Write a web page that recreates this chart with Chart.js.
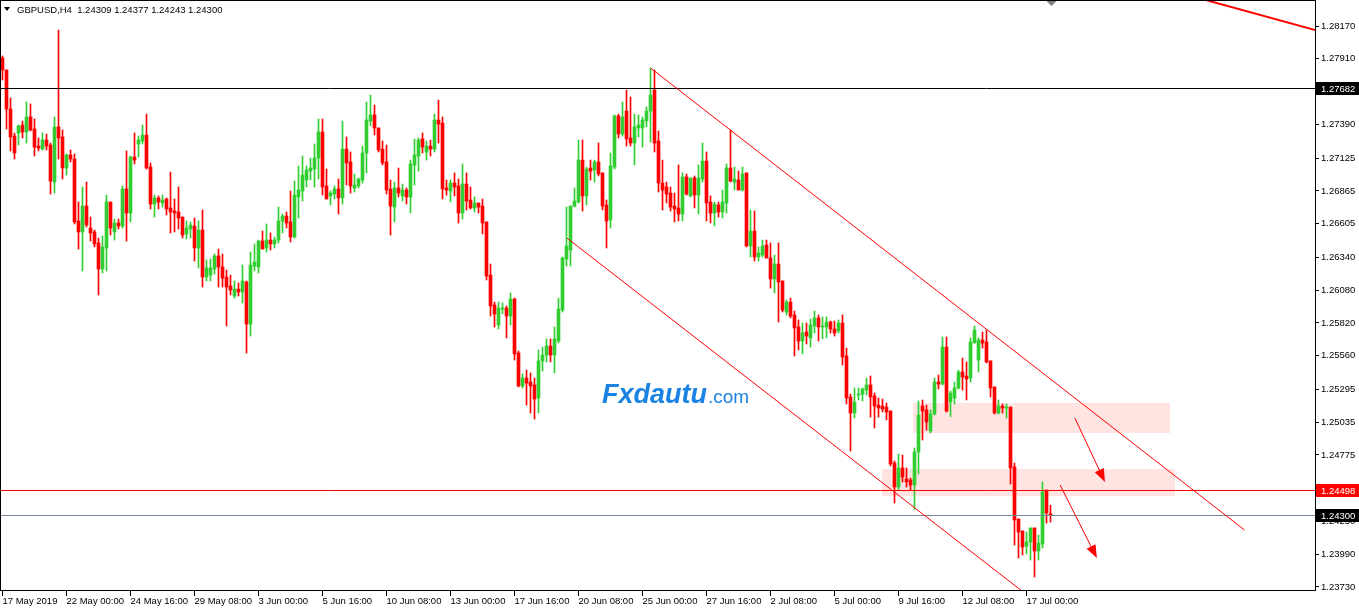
<!DOCTYPE html>
<html>
<head>
<meta charset="utf-8">
<script src="https://cdn.jsdelivr.net/npm/chart.js@4.4.1/dist/chart.umd.min.js"></script>
<style>
  html, body { margin: 0; padding: 0; background: #fff; overflow: hidden; }
  #wrap { width: 1359px; height: 608px; }
</style>
</head>
<body>
<div id="wrap"><canvas id="chart" width="1359" height="608"></canvas></div>
<script>
// GBPUSD H4 candles (one entry per bar, oldest first)
const opens = [
  1.27917, 1.27822, 1.27513, 1.27299, 1.27323, 1.27386, 1.27331, 1.27450, 1.27355, 1.27220,
  1.27196, 1.27268, 1.27228, 1.26935, 1.27371, 1.27292, 1.27046, 1.27149, 1.27117, 1.26627,
  1.26540, 1.26745, 1.26571, 1.26540, 1.26453, 1.26247, 1.26413, 1.26777, 1.26540, 1.26611,
  1.26587, 1.26880, 1.26690, 1.27133, 1.27236, 1.27260, 1.27307, 1.27054, 1.26761, 1.26809,
  1.26769, 1.26801, 1.26730, 1.26706, 1.26698, 1.26658, 1.26524, 1.26563, 1.26587, 1.26413,
  1.26555, 1.26183, 1.26199, 1.26247, 1.26350, 1.26263, 1.26183, 1.26112, 1.26033, 1.26088,
  1.26065, 1.26144, 1.25811, 1.26270, 1.26263, 1.26468, 1.26413, 1.26476, 1.26445, 1.26476,
  1.26627, 1.26666, 1.26619, 1.26500, 1.26817, 1.26864, 1.26951, 1.27022, 1.27038, 1.27125,
  1.27331, 1.26904, 1.26825, 1.26840, 1.26880, 1.26809, 1.27196, 1.27094, 1.26888, 1.26904,
  1.26951, 1.27165, 1.27418, 1.27466, 1.27363, 1.27196, 1.27094, 1.26880, 1.26737, 1.26888,
  1.26825, 1.26872, 1.26817, 1.27070, 1.27141, 1.27276, 1.27173, 1.27220, 1.27196, 1.27426,
  1.27402, 1.26888, 1.26864, 1.26927, 1.26904, 1.26690, 1.26919, 1.26793, 1.26730, 1.26769,
  1.26745, 1.26619, 1.26199, 1.25962, 1.25804, 1.25930, 1.25938, 1.25875, 1.26009, 1.25582,
  1.25321, 1.25384, 1.25352, 1.25329, 1.25226, 1.25519, 1.25566, 1.25637, 1.25566, 1.25677,
  1.25922, 1.26326, 1.26397, 1.26745, 1.26777, 1.27109, 1.26825, 1.27046, 1.27030, 1.27094,
  1.27007, 1.26753, 1.26635, 1.27054, 1.27458, 1.27315, 1.27497, 1.27284, 1.27244, 1.27363,
  1.27363, 1.27418, 1.27497, 1.27663, 1.27260, 1.26927, 1.26896, 1.26848, 1.26745, 1.26730,
  1.26682, 1.26975, 1.26825, 1.26967, 1.26832, 1.26959, 1.27101, 1.26777, 1.26690, 1.26753,
  1.26698, 1.26769, 1.27046, 1.26935, 1.26951, 1.26872, 1.27007, 1.26429, 1.26547, 1.26342,
  1.26357, 1.26437, 1.26334, 1.26168, 1.26286, 1.26152, 1.25906, 1.25985, 1.25883, 1.25788,
  1.25677, 1.25748, 1.25701, 1.25796, 1.25859, 1.25788, 1.25788, 1.25827, 1.25772, 1.25756,
  1.25819, 1.25558, 1.25234, 1.25107, 1.25249, 1.25257, 1.25289, 1.25329, 1.25242, 1.25170,
  1.25162, 1.25154, 1.25123, 1.24711, 1.24521, 1.24672, 1.24585, 1.24577, 1.24537, 1.24798,
  1.25162, 1.25131, 1.24965, 1.25099, 1.25352, 1.25336, 1.25629, 1.25194, 1.25226, 1.25305,
  1.25431, 1.25400, 1.25384, 1.25661, 1.25526, 1.25685, 1.25669, 1.25519, 1.25313, 1.25107,
  1.25162, 1.25146, 1.25154, 1.24680, 1.24268, 1.24173, 1.24054, 1.24086, 1.24197, 1.24015,
  1.24070, 1.24497, 1.24309
];
const highs = [
  1.27933, 1.27822, 1.27600, 1.27323, 1.27386, 1.27418, 1.27569, 1.27553, 1.27434, 1.27284,
  1.27323, 1.27315, 1.27244, 1.27450, 1.28138, 1.27347, 1.27157, 1.27189, 1.27157, 1.26777,
  1.26896, 1.26935, 1.26658, 1.26555, 1.26492, 1.26508, 1.26832, 1.26777, 1.26642, 1.26642,
  1.26904, 1.27181, 1.27141, 1.27323, 1.27299, 1.27386, 1.27473, 1.27086, 1.26832, 1.26825,
  1.26832, 1.26809, 1.27014, 1.26801, 1.26896, 1.26658, 1.26627, 1.26619, 1.26650, 1.26627,
  1.26714, 1.26318, 1.26326, 1.26365, 1.26405, 1.26365, 1.26239, 1.26199, 1.26152, 1.26136,
  1.26278, 1.26152, 1.26381, 1.26445, 1.26476, 1.26547, 1.26603, 1.26532, 1.26500, 1.26737,
  1.26682, 1.26698, 1.26864, 1.26943, 1.27062, 1.27141, 1.27062, 1.27125, 1.27236, 1.27434,
  1.27434, 1.27038, 1.26864, 1.26904, 1.26959, 1.27418, 1.27292, 1.27173, 1.26999, 1.26967,
  1.27220, 1.27569, 1.27624, 1.27545, 1.27363, 1.27260, 1.27228, 1.26951, 1.26935, 1.27046,
  1.26919, 1.26888, 1.27109, 1.27276, 1.27284, 1.27323, 1.27260, 1.27268, 1.27473, 1.27584,
  1.27450, 1.26951, 1.26951, 1.27007, 1.26959, 1.27078, 1.27007, 1.26896, 1.26817, 1.26769,
  1.26801, 1.26619, 1.26286, 1.25985, 1.25985, 1.25978, 1.25954, 1.26057, 1.26017, 1.25598,
  1.25416, 1.25447, 1.25424, 1.25384, 1.25606, 1.25629, 1.25693, 1.25693, 1.25788, 1.26017,
  1.26342, 1.26737, 1.26745, 1.26888, 1.27268, 1.27268, 1.27054, 1.27109, 1.27109, 1.27244,
  1.27007, 1.26793, 1.27165, 1.27466, 1.27473, 1.27569, 1.27663, 1.27608, 1.27473, 1.27466,
  1.27450, 1.27529, 1.27838, 1.27822, 1.27339, 1.27109, 1.26935, 1.26896, 1.26848, 1.27070,
  1.27007, 1.26999, 1.26967, 1.26983, 1.27070, 1.27244, 1.27173, 1.26825, 1.26777, 1.26777,
  1.26872, 1.27078, 1.27347, 1.27054, 1.27022, 1.27054, 1.27007, 1.26714, 1.26706, 1.26421,
  1.26476, 1.26476, 1.26453, 1.26357, 1.26453, 1.26152, 1.26001, 1.26017, 1.25914, 1.25843,
  1.25819, 1.25819, 1.25851, 1.25914, 1.25883, 1.25867, 1.25867, 1.25835, 1.25835, 1.25843,
  1.25883, 1.25621, 1.25257, 1.25305, 1.25305, 1.25305, 1.25384, 1.25400, 1.25265, 1.25226,
  1.25218, 1.25186, 1.25123, 1.24727, 1.24782, 1.24774, 1.24672, 1.24592, 1.24830, 1.25202,
  1.25210, 1.25170, 1.25131, 1.25384, 1.25408, 1.25709, 1.25709, 1.25281, 1.25352, 1.25447,
  1.25542, 1.25511, 1.25701, 1.25796, 1.25701, 1.25748, 1.25764, 1.25519, 1.25313, 1.25210,
  1.25178, 1.25178, 1.25154, 1.24711, 1.24268, 1.24173, 1.24165, 1.24197, 1.24197, 1.24141,
  1.24561, 1.24497, 1.24377
];
const lows = [
  1.27743, 1.27355, 1.27181, 1.27117, 1.27228, 1.27284, 1.27244, 1.27339, 1.27141, 1.27181,
  1.27189, 1.27189, 1.26840, 1.26848, 1.27117, 1.26959, 1.26991, 1.27094, 1.26603, 1.26405,
  1.26231, 1.26579, 1.26468, 1.26421, 1.26041, 1.26215, 1.26231, 1.26516, 1.26476, 1.26563,
  1.26571, 1.26468, 1.26619, 1.27078, 1.27133, 1.27236, 1.27038, 1.26722, 1.26658, 1.26722,
  1.26737, 1.26674, 1.26532, 1.26540, 1.26563, 1.26492, 1.26484, 1.26492, 1.26310, 1.26255,
  1.26104, 1.26152, 1.26152, 1.26207, 1.26104, 1.26104, 1.25796, 1.26041, 1.26017, 1.26033,
  1.25978, 1.25582, 1.25716, 1.26231, 1.26215, 1.26405, 1.26381, 1.26397, 1.26413, 1.26453,
  1.26532, 1.26571, 1.26460, 1.26492, 1.26650, 1.26785, 1.26896, 1.26951, 1.26896, 1.26959,
  1.26832, 1.26801, 1.26753, 1.26801, 1.26682, 1.26761, 1.26912, 1.26848, 1.26856, 1.26888,
  1.26927, 1.27007, 1.27379, 1.27307, 1.27173, 1.27070, 1.26840, 1.26516, 1.26619, 1.26817,
  1.26785, 1.26761, 1.26690, 1.26912, 1.27022, 1.27165, 1.27109, 1.27141, 1.27173, 1.27244,
  1.26801, 1.26832, 1.26777, 1.26825, 1.26611, 1.26642, 1.26714, 1.26722, 1.26698, 1.26690,
  1.26524, 1.26160, 1.25875, 1.25788, 1.25772, 1.25891, 1.25701, 1.25803, 1.25526, 1.25313,
  1.25305, 1.25170, 1.25107, 1.25060, 1.25107, 1.25439, 1.25511, 1.25511, 1.25424, 1.25661,
  1.25906, 1.26270, 1.26270, 1.26737, 1.26769, 1.26706, 1.26753, 1.26951, 1.26935, 1.26983,
  1.26714, 1.26413, 1.26571, 1.27038, 1.27284, 1.27299, 1.27220, 1.27220, 1.27070, 1.27292,
  1.27212, 1.27371, 1.27252, 1.27173, 1.26856, 1.26714, 1.26769, 1.26706, 1.26619, 1.26627,
  1.26627, 1.26832, 1.26817, 1.26730, 1.26682, 1.26935, 1.26627, 1.26611, 1.26587, 1.26658,
  1.26650, 1.26690, 1.26935, 1.26872, 1.26872, 1.26864, 1.26421, 1.26342, 1.26310, 1.26310,
  1.26342, 1.26334, 1.26096, 1.26057, 1.25827, 1.25906, 1.25883, 1.25859, 1.25558, 1.25606,
  1.25574, 1.25653, 1.25629, 1.25740, 1.25677, 1.25693, 1.25701, 1.25740, 1.25716, 1.25740,
  1.25487, 1.25178, 1.24806, 1.25067, 1.25210, 1.25202, 1.25249, 1.25075, 1.24988, 1.25075,
  1.25115, 1.25052, 1.24687, 1.24395, 1.24497, 1.24561, 1.24521, 1.24497, 1.24344, 1.24624,
  1.24893, 1.24972, 1.24949, 1.25091, 1.25297, 1.25329, 1.25115, 1.25079, 1.25178, 1.25297,
  1.25289, 1.25210, 1.25352, 1.25661, 1.25431, 1.25621, 1.25503, 1.25234, 1.25099, 1.25099,
  1.25107, 1.25067, 1.24545, 1.24062, 1.23959, 1.23983, 1.23991, 1.23943, 1.23809, 1.23943,
  1.24038, 1.24236, 1.24243
];
const closes = [
  1.27822, 1.27513, 1.27292, 1.27165, 1.27379, 1.27331, 1.27450, 1.27347, 1.27212, 1.27204,
  1.27268, 1.27220, 1.26943, 1.27371, 1.27284, 1.27046, 1.27149, 1.27117, 1.26619, 1.26540,
  1.26745, 1.26595, 1.26532, 1.26445, 1.26247, 1.26421, 1.26777, 1.26571, 1.26611, 1.26587,
  1.26880, 1.26690, 1.27133, 1.27109, 1.27268, 1.27307, 1.27046, 1.26761, 1.26809, 1.26777,
  1.26793, 1.26722, 1.26698, 1.26690, 1.26650, 1.26516, 1.26571, 1.26595, 1.26413, 1.26555,
  1.26183, 1.26255, 1.26255, 1.26350, 1.26263, 1.26175, 1.26104, 1.26080, 1.26088, 1.26065,
  1.26152, 1.25811, 1.26278, 1.26302, 1.26468, 1.26405, 1.26476, 1.26445, 1.26476, 1.26627,
  1.26666, 1.26611, 1.26500, 1.26832, 1.26872, 1.26991, 1.27030, 1.27046, 1.27125, 1.27331,
  1.26896, 1.26801, 1.26848, 1.26880, 1.26809, 1.27196, 1.27086, 1.26904, 1.26912, 1.26959,
  1.27165, 1.27426, 1.27466, 1.27363, 1.27189, 1.27086, 1.26872, 1.26745, 1.26888, 1.26848,
  1.26872, 1.26817, 1.27078, 1.27149, 1.27268, 1.27212, 1.27220, 1.27196, 1.27426, 1.27394,
  1.26880, 1.26872, 1.26927, 1.26896, 1.26690, 1.26919, 1.26785, 1.26730, 1.26769, 1.26737,
  1.26611, 1.26191, 1.25954, 1.25891, 1.25938, 1.25938, 1.25875, 1.26009, 1.25574, 1.25321,
  1.25384, 1.25344, 1.25321, 1.25218, 1.25519, 1.25566, 1.25637, 1.25566, 1.25693, 1.25930,
  1.26334, 1.26429, 1.26745, 1.26785, 1.27109, 1.26825, 1.27038, 1.27022, 1.27094, 1.26999,
  1.26745, 1.26627, 1.27062, 1.27458, 1.27315, 1.27450, 1.27276, 1.27244, 1.27371, 1.27386,
  1.27426, 1.27497, 1.27624, 1.27244, 1.26927, 1.26872, 1.26840, 1.26737, 1.26722, 1.26682,
  1.26975, 1.26840, 1.26967, 1.26832, 1.26967, 1.27101, 1.26769, 1.26690, 1.26761, 1.26698,
  1.26777, 1.27046, 1.26943, 1.26959, 1.26872, 1.26999, 1.26429, 1.26547, 1.26342, 1.26373,
  1.26429, 1.26334, 1.26168, 1.26286, 1.26144, 1.25922, 1.25985, 1.25875, 1.25780, 1.25677,
  1.25740, 1.25716, 1.25803, 1.25859, 1.25788, 1.25796, 1.25827, 1.25772, 1.25740, 1.25819,
  1.25550, 1.25226, 1.25107, 1.25194, 1.25257, 1.25297, 1.25329, 1.25234, 1.25162, 1.25146,
  1.25139, 1.25115, 1.24703, 1.24521, 1.24672, 1.24600, 1.24561, 1.24537, 1.24798, 1.25091,
  1.25123, 1.25036, 1.25099, 1.25352, 1.25336, 1.25629, 1.25123, 1.25265, 1.25305, 1.25431,
  1.25392, 1.25376, 1.25669, 1.25764, 1.25685, 1.25661, 1.25511, 1.25305, 1.25107, 1.25162,
  1.25146, 1.25154, 1.24672, 1.24260, 1.24165, 1.24046, 1.24086, 1.24197, 1.24015, 1.24078,
  1.24482, 1.24315, 1.24300
];

// time axis: a label every 16 bars
const timeTickBars = [0, 16, 32, 48, 64, 80, 96, 112, 128, 144, 160, 176, 192, 208, 224, 240, 256];
const timeTickLabels = [
  '17 May 2019', '22 May 00:00', '24 May 16:00', '29 May 08:00', '3 Jun 00:00', '5 Jun 16:00',
  '10 Jun 08:00', '13 Jun 00:00', '17 Jun 16:00', '20 Jun 08:00', '25 Jun 00:00', '27 Jun 16:00',
  '2 Jul 08:00', '5 Jul 00:00', '9 Jul 16:00', '12 Jul 08:00', '17 Jul 00:00'
];
// price axis ticks as the terminal prints them
const priceTicks = [
  1.28170, 1.27910, 1.27650, 1.27390, 1.27125, 1.26865, 1.26605, 1.26340, 1.26080,
  1.25820, 1.25560, 1.25295, 1.25035, 1.24775, 1.24515, 1.24250, 1.23990, 1.23730
];

// objects drawn on the chart, in (bar, price)
const hLines = [
  { price: 1.27682, color: '#000000', box: '#000000' },
  { price: 1.24498, color: '#ff0000', box: '#ff0000' },
  { price: 1.24300, color: '#778899', box: '#000000' }
];
const trendLines = [
  { from: [162, 1.27838], to: [310.5, 1.24181], width: 1 },
  { from: [141.1, 1.26492], to: [290, 1.22835], width: 1 },
  { from: [300, 1.28383], to: [330, 1.28122], width: 2 }
];
const zones = [
  { from: [227.6, 1.25186], to: [291.9, 1.24949] },
  { from: [219.9, 1.24664], to: [293.1, 1.24450] }
];
const arrows = [
  { from: [268.1, 1.25067], to: [275.6, 1.24561] },
  { from: [264.4, 1.24537], to: [273.6, 1.23959] }
];

const BULL = '#32cd32';
const BEAR = '#ff0000';
const FONT = "'Liberation Sans', Arial, sans-serif";

const barColors = opens.map((o, i) => closes[i] >= o ? BULL : BEAR);
const wickData = opens.map((o, i) => ({ x: i, y: [lows[i], highs[i]] }));
const bodyData = opens.map((o, i) => ({ x: i, y: [o, closes[i]] }));

function drawArrow(ctx, x1, y1, x2, y2) {
  const ang = Math.atan2(y2 - y1, x2 - x1);
  const len = 13, half = 5;
  ctx.beginPath();
  ctx.moveTo(x1, y1);
  ctx.lineTo(x2 - Math.cos(ang) * len * 0.8, y2 - Math.sin(ang) * len * 0.8);
  ctx.stroke();
  ctx.beginPath();
  ctx.moveTo(x2, y2);
  ctx.lineTo(x2 - Math.cos(ang) * len + Math.sin(ang) * half, y2 - Math.sin(ang) * len - Math.cos(ang) * half);
  ctx.lineTo(x2 - Math.cos(ang) * len - Math.sin(ang) * half, y2 - Math.sin(ang) * len + Math.cos(ang) * half);
  ctx.closePath();
  ctx.fill();
}

// no label overhang padding: the plot fills the frame like the terminal does
function noPad(scale) {
  scale.paddingTop = 0;
  scale.paddingBottom = 0;
  scale.paddingLeft = 0;
  scale.paddingRight = 0;
}

const overlay = {
  id: 'overlay',
  beforeDatasetsDraw(chart) {
    const { ctx, chartArea: a } = chart;
    const X = v => chart.scales.x.getPixelForValue(v);
    const Y = v => chart.scales.y.getPixelForValue(v);
    ctx.save();
    ctx.beginPath();
    ctx.rect(a.left, a.top, a.width, a.height);
    ctx.clip();
    ctx.fillStyle = '#ffe4e1';
    zones.forEach(z => {
      const x1 = Math.round(X(z.from[0])), x2 = Math.round(X(z.to[0]));
      const y1 = Math.round(Y(z.from[1])), y2 = Math.round(Y(z.to[1]));
      ctx.fillRect(x1, y1, x2 - x1, y2 - y1);
    });
    ctx.restore();
  },
  afterDatasetsDraw(chart) {
    const { ctx, chartArea: a } = chart;
    const X = v => chart.scales.x.getPixelForValue(v);
    const Y = v => chart.scales.y.getPixelForValue(v);
    ctx.save();
    ctx.beginPath();
    ctx.rect(a.left, a.top, a.width, a.height);
    ctx.clip();

    // horizontal levels
    ctx.lineWidth = 1;
    hLines.forEach(h => {
      const y = Math.round(Y(h.price)) + 0.5;
      ctx.strokeStyle = h.color;
      ctx.beginPath();
      ctx.moveTo(a.left, y);
      ctx.lineTo(a.right, y);
      ctx.stroke();
    });

    // channel and trend lines
    ctx.strokeStyle = '#ff0000';
    trendLines.forEach(t => {
      ctx.lineWidth = t.width;
      ctx.beginPath();
      ctx.moveTo(X(t.from[0]), Y(t.from[1]));
      ctx.lineTo(X(t.to[0]), Y(t.to[1]));
      ctx.stroke();
    });

    // arrows
    ctx.lineWidth = 1;
    ctx.fillStyle = '#ff0000';
    arrows.forEach(ar => drawArrow(ctx, X(ar.from[0]), Y(ar.from[1]), X(ar.to[0]), Y(ar.to[1])));

    // watermark
    ctx.fillStyle = '#1a82e2';
    ctx.textBaseline = 'alphabetic';
    ctx.textAlign = 'left';
    ctx.font = "italic bold 27px " + FONT;
    ctx.fillText('Fxdautu', 602, 403);
    const w = ctx.measureText('Fxdautu').width;
    ctx.font = "19px " + FONT;
    ctx.fillText('.com', 602 + w + 1, 403);
    ctx.restore();
  },
  afterDraw(chart) {
    const { ctx, chartArea: a, width } = chart;
    const X = v => chart.scales.x.getPixelForValue(v);
    const Y = v => chart.scales.y.getPixelForValue(v);
    ctx.save();
    // frame
    ctx.strokeStyle = '#000';
    ctx.lineWidth = 1;
    ctx.strokeRect(a.left - 0.5, a.top - 0.5, a.right - a.left + 1, a.bottom - a.top + 1);

    // price boxes on the axis
    ctx.font = "9.5px " + FONT;
    ctx.textBaseline = 'middle';
    ctx.textAlign = 'left';
    hLines.forEach(h => {
      const y = Math.round(Y(h.price));
      ctx.fillStyle = h.box;
      ctx.fillRect(a.right + 1, y - 6, width - a.right - 1, 13);
      ctx.fillStyle = '#fff';
      ctx.fillText(h.price.toFixed(5), a.right + 6, y + 1);
    });

    // symbol line
    ctx.fillStyle = '#000';
    ctx.beginPath();
    ctx.moveTo(a.left + 3, a.top + 6);
    ctx.lineTo(a.left + 9, a.top + 6);
    ctx.lineTo(a.left + 6, a.top + 10);
    ctx.closePath();
    ctx.fill();
    ctx.font = "9.5px " + FONT;
    ctx.textBaseline = 'alphabetic';
    const last = opens.length - 1;
    ctx.fillText('GBPUSD,H4  ' + [opens[last], highs[last], lows[last], closes[last]].map(v => v.toFixed(5)).join(' '),
      a.left + 16, a.top + 12);

    // chart shift marker
    const sx = Math.round(X(last)) + 0.5;
    ctx.fillStyle = '#808080';
    ctx.beginPath();
    ctx.moveTo(sx - 5, a.top);
    ctx.lineTo(sx + 5, a.top);
    ctx.lineTo(sx, a.top + 5);
    ctx.closePath();
    ctx.fill();
    ctx.restore();
  }
};

Chart.defaults.font.family = FONT;
Chart.defaults.font.size = 9.5;
Chart.defaults.color = '#000';

new Chart(document.getElementById('chart'), {
  type: 'bar',
  data: {
    datasets: [
      { data: wickData, backgroundColor: barColors, barThickness: 1, grouped: false, borderWidth: 0, minBarLength: 1 },
      { data: bodyData, backgroundColor: barColors, barThickness: 3, grouped: false, borderWidth: 0, minBarLength: 1 }
    ]
  },
  options: {
    responsive: false,
    animation: false,
    devicePixelRatio: 1,
    layout: { padding: { top: 1, left: 1, right: 0, bottom: 0 } },
    plugins: { legend: { display: false }, tooltip: { enabled: false } },
    scales: {
      x: {
        type: 'linear',
        offset: false,
        min: -0.375,
        max: 328.125,
        afterBuildTicks: scale => { scale.ticks = timeTickBars.map(v => ({ value: v })); },
        afterFit: scale => { scale.height = 18; noPad(scale); },
        grid: { drawOnChartArea: false, drawTicks: true, tickLength: 6, color: '#000', offset: false },
        border: { display: true, color: '#000' },
        ticks: {
          autoSkip: false, maxRotation: 0, align: 'start', padding: 0,
          callback: (v, i) => timeTickLabels[i]
        }
      },
      y: {
        type: 'linear',
        position: 'right',
        min: 1.23706,
        max: 1.28368,
        afterBuildTicks: scale => { scale.ticks = priceTicks.map(v => ({ value: v })); },
        afterFit: scale => { scale.width = 44; noPad(scale); },
        grid: { drawOnChartArea: false, drawTicks: true, tickLength: 4, color: '#000' },
        border: { display: true, color: '#000' },
        ticks: { autoSkip: false, padding: 2, callback: v => v.toFixed(5) }
      }
    }
  },
  plugins: [overlay]
});
</script>
</body>
</html>
